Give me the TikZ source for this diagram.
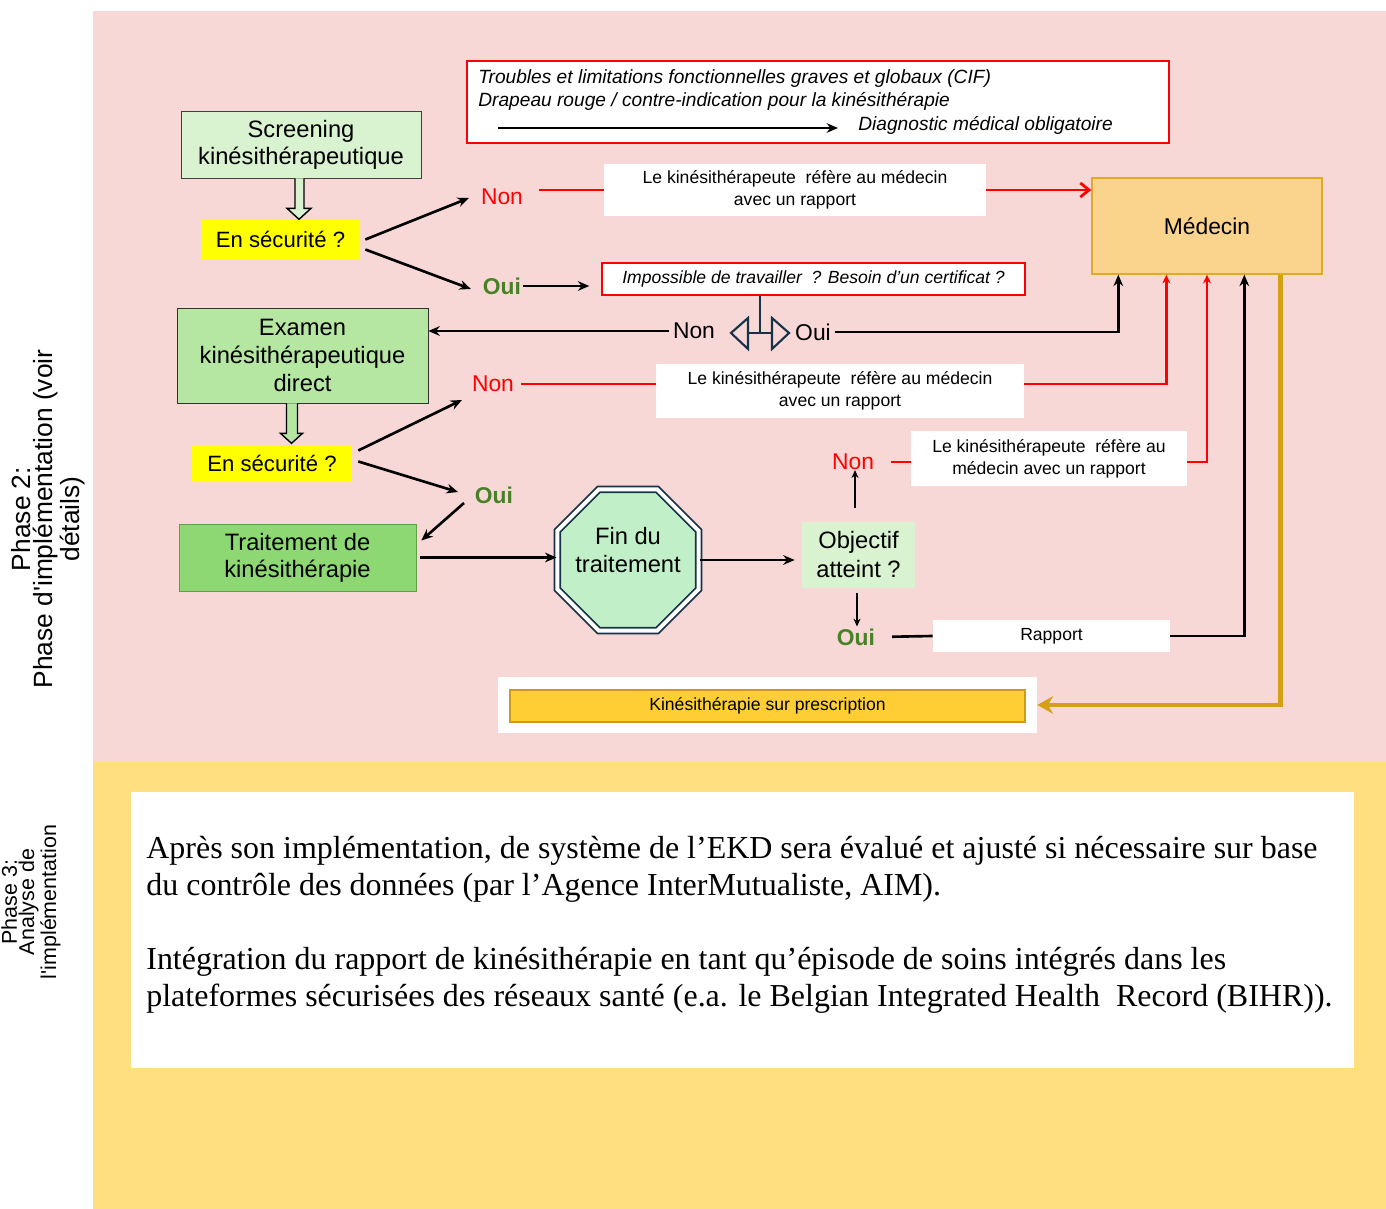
\documentclass[tikz,border=0pt]{standalone}
\usepackage{fontspec}
\setmainfont{Liberation Sans}
\newfontfamily\timesfont{Liberation Serif}
\usetikzlibrary{arrows.meta,calc,shapes.geometric}

\definecolor{pinkbg}{RGB}{248,216,215}
\definecolor{yellowbg}{RGB}{255,223,128}
\definecolor{screengreen}{RGB}{217,242,208}
\definecolor{examgreen}{RGB}{181,230,162}
\definecolor{traitgreen}{RGB}{142,216,116}
\definecolor{traitborder}{RGB}{98,160,72}
\definecolor{mint}{RGB}{193,240,200}
\definecolor{navy}{RGB}{22,50,70}
\definecolor{medfill}{RGB}{250,211,140}
\definecolor{medborder}{RGB}{222,170,40}
\definecolor{prescfill}{RGB}{255,206,52}
\definecolor{prescborder}{RGB}{205,155,25}
\definecolor{gold}{RGB}{212,160,22}
\definecolor{ouigreen}{RGB}{72,130,38}
\definecolor{secuyellow}{RGB}{255,255,0}

\newcommand{\fs}[2]{\fontsize{#1}{#2}\selectfont}

\begin{document}
\begin{tikzpicture}[x=0.02cm, y=-0.02cm,
	box/.style={align=center, inner sep=0pt, font=\fs{13.5}{15.5}},
	secu/.style={fill=secuyellow, inner sep=0pt, font=\fs{12.6}{15}},
	refbox/.style={fill=white, align=center, inner sep=0pt, font=\fs{10}{12.5}},
	nonlbl/.style={text=red, inner sep=1pt, font=\fs{13}{15}},
	ouilbl/.style={text=ouigreen, inner sep=1pt, font=\bfseries\fs{13}{15}},
	swlbl/.style={inner sep=2pt, font=\fs{13}{15}},
	conn/.style={line width=1.5pt, -{Stealth[length=6.5pt,width=5.5pt]}},
	thinconn/.style={line width=0.9pt, -{Stealth[length=4.5pt,width=4pt]}},
	redline/.style={red, line width=1.6pt},
	uptip/.style={-{Stealth[length=5pt,width=4.5pt]}}]
	\useasboundingbox (0,0) rectangle (1386,1209);
	\fill[white] (0,0) rectangle (1386,1209);
	\fill[pinkbg] (93,11) rectangle (1386,762);
	\fill[yellowbg] (93,762) rectangle (1386,1209);
	
	% phases
	\node[rotate=90, align=center, font=\fs{15}{12.6}] (phase2) at (48,519) {Phase 2:\\Phase d\textquotesingle implémentation (voir\\détails)};
	\node[rotate=90, align=center, font=\fs{12.2}{9.8}] (phase3) at (31,902) {Phase 3:\\Analyse de\\l\textquotesingle implémentation};
	
	% haut du schema
	\node[box, draw=black!75, fill=screengreen, minimum width=4.8cm, minimum height=1.34cm] (screen) at (301,144.5) {Screening\\kinésithérapeutique};
	\filldraw[fill=screengreen, line width=0.8pt, shift={(screen.south)}] (-6,0) -- (-6,30) -- (-14,30) -- (-2,41) -- (10,30) -- (3,30) -- (3,0);
	\node[secu, minimum width=3.18cm, minimum height=0.78cm] (secu1) at (280.5,239.5) {En sécurité ?};
	\node[nonlbl] (non1) at (502,197) {Non};
	\node[ouilbl] (oui1) at (502,286) {Oui};
	\node[refbox, minimum width=7.64cm, minimum height=1.06cm] (ref1) at (795,190) {Le kinésithérapeute\ \ réfère au médecin\\avec un rapport};
	
	\node[draw=red, line width=0.8pt, fill=white, minimum width=14.04cm, minimum height=1.64cm] (cif) at (818,102) {};
	\node[anchor=base west, inner sep=0pt, font=\itshape\fs{10.9}{13}] (cif1) at (478,84) {Troubles et limitations fonctionnelles graves et globaux (CIF)};
	\node[anchor=base west, inner sep=0pt, font=\itshape\fs{10.9}{13}] (cif2) at (478,107) {Drapeau rouge / contre-indication pour la kinésithérapie};
	\node[anchor=base west, inner sep=0pt, font=\itshape\fs{10.9}{13}] (diag) at (858,131) {Diagnostic médical obligatoire};
	\coordinate (diagstart) at (498,128);
	\draw[conn, shorten >=0.4cm] (diagstart) -- (diagstart -| diag.west);
	
	\node[box, draw=medborder, fill=medfill, line width=0.8pt, minimum width=4.6cm, minimum height=1.92cm, font=\fs{13}{15}] (medecin) at (1207,226) {Médecin};
	\node[draw=red, line width=0.8pt, fill=white, minimum width=8.46cm, minimum height=0.64cm, inner sep=0pt, font=\itshape\fs{10}{12}] (impos) at (813.5,279) {Impossible de travailler\ \ ? Besoin d’un certificat ?};
	
	% double fleche non / oui
	\coordinate (sw) at (760,333);
	\draw[navy, line width=1.2pt] (sw |- impos.south) -- (sw);
	\begin{scope}[shift={(sw)}, navy, line width=1.2pt]
		\draw (-12,0) -- (12,0);
		\draw (-12,-15) -- (-29,0) -- (-12,16) -- cycle;
		\draw (12,-15) -- (29,0) -- (12,16) -- cycle;
	\end{scope}
	\node[swlbl] (swnon) at (694,331) {Non};
	\node[swlbl] (swoui) at (813,332) {Oui};
	
	% examen direct
	\node[box, draw=black!80, fill=examgreen, minimum width=5.02cm, minimum height=1.9cm, font=\fs{13.5}{16}] (exam) at (302.5,355.5) {Examen\\kinésithérapeutique\\direct};
	\filldraw[fill=examgreen, line width=0.8pt, shift={(exam.south)}] (-16,0) -- (-16,30) -- (-22,30) -- (-11,40) -- (0,30) -- (-5,30) -- (-5,0);
	\node[secu, minimum width=3.2cm, minimum height=0.74cm] (secu2) at (272,463.5) {En sécurité ?};
	\node[nonlbl] (non2) at (493,384) {Non};
	\node[ouilbl] (oui2) at (494,495) {Oui};
	\node[refbox, minimum width=7.36cm, minimum height=1.08cm] (ref2) at (840,391) {Le kinésithérapeute\ \ réfère au médecin\\avec un rapport};
	\node[box, draw=traitborder, fill=traitgreen, minimum width=4.74cm, minimum height=1.34cm] (trait) at (297.5,557.5) {Traitement de\\kinésithérapie};
	\node[regular polygon, regular polygon sides=8, minimum size=3.06cm, inner sep=0pt, draw=navy, line width=1pt, double=white, double distance=2.2pt, fill=mint] (fin) at (628,560) {};
	\node[align=center, inner sep=0pt, font=\fs{13.5}{16}] (fintxt) at ($(fin.center)+(0,-10)$) {Fin du\\traitement};
	\node[box, fill=screengreen, minimum width=2.26cm, minimum height=1.34cm, font=\fs{13.5}{16.5}] (obj) at (858.5,555) {Objectif\\atteint ?};
	\node[nonlbl] (non3) at (853,462) {Non};
	\node[ouilbl] (oui3) at (856,637) {Oui};
	\node[refbox, minimum width=5.52cm, minimum height=1.1cm] (ref3) at (1049,458.5) {Le kinésithérapeute\ \ réfère au\\médecin avec un rapport};
	\node[refbox, minimum width=4.74cm, minimum height=0.64cm] (rapport) at (1051.5,636) {Rapport};
	\node[fill=white, minimum width=10.78cm, minimum height=1.12cm, inner sep=0pt] (prescw) at (767.5,705) {};
	\node[draw=prescborder, line width=0.8pt, fill=prescfill, minimum width=10.3cm, minimum height=0.64cm, inner sep=0pt, font=\fs{10}{12}] (presc) at (767.5,706) {Kinésithérapie sur prescription};
	
	% fleches
	\draw[conn] ($(secu1.east)+(5,0)$) -- ($(non1.west)+(-10,1)$);
	\draw[conn] ($(secu1.east)+(5,10)$) -- ($(oui1.west)+(-10,3)$);
	\draw[redline, shorten <=0.28cm] (non1.east |- ref1.west) -- (ref1.west);
	\draw[redline, -{Straight Barb[length=5pt,width=8pt]}] (ref1.east) -- (ref1.east -| medecin.west);
	\draw[conn, shorten >=0.24cm] (oui1.east) -- (oui1.east -| impos.west);
	\draw[conn] (swnon.west) -- (swnon.west -| exam.east);
	\draw[conn] (swoui.east) -| ($(medecin.south west)+(27,0)$);
	\draw[conn] ($(secu2.east)+(6,-13)$) -- ($(non2.center)+(-31,16)$);
	\draw[conn] ($(secu2.east)+(6,-2)$) -- ($(oui2.center)+(-36,-3)$);
	\draw[redline, shorten <=0.1cm] (non2.east) -- (non2.east -| ref2.west);
	\draw[redline, uptip] (ref2.east |- non2.east) -| ($(medecin.south west)+(75,0)$);
	\draw[conn] ($(oui2.center)+(-30,8)$) -- ($(trait.east)+(5,-17)$);
	\draw[conn, shorten <=0.08cm] (trait.east) -- (trait.east -| fin.west);
	\draw[conn, shorten >=0.14cm] (fin.east) -- (fin.east -| obj.west);
	\draw[thinconn] ($(obj.north)+(-3.5,-13)$) -- ($(non3.south)+(2,-2)$);
	\draw[redline, shorten <=0.3cm] (non3.east) -- (non3.east -| ref3.west);
	\draw[redline, uptip] (ref3.east |- non3.east) -| (medecin.south);
	\draw[thinconn] ($(obj.south)+(-1.5,4)$) -- ($(oui3.north)+(1,0)$);
	\draw[line width=1.5pt, shorten <=0.3cm] (oui3.east) -- (rapport.west);
	\draw[conn] (rapport.east) -| ($(medecin.south west)+(153,0)$);
	\draw[gold, line width=2.6pt, -{Stealth[length=9pt,width=10pt,inset=3pt]}] ($(medecin.south west)+(189,0)$) |- (prescw.east);
	
	% phase 3
	\node[fill=white, minimum width=24.46cm, minimum height=5.52cm] (phase3box) at (742.5,930) {};
	\node[anchor=north west, align=left, inner sep=0pt, font=\timesfont\fs{18.2}{21}] (phase3txt) at (146,836) {Après son implémentation, de système de l’EKD sera évalué et ajusté si nécessaire sur base\\du contrôle des données (par l’Agence InterMutualiste, AIM).\\[21pt]Intégration du rapport de kinésithérapie en tant qu’épisode de soins intégrés dans les\\plateformes sécurisées des réseaux santé (e.a. le Belgian Integrated Health\ \ Record (BIHR)).};
\end{tikzpicture}
\end{document}
